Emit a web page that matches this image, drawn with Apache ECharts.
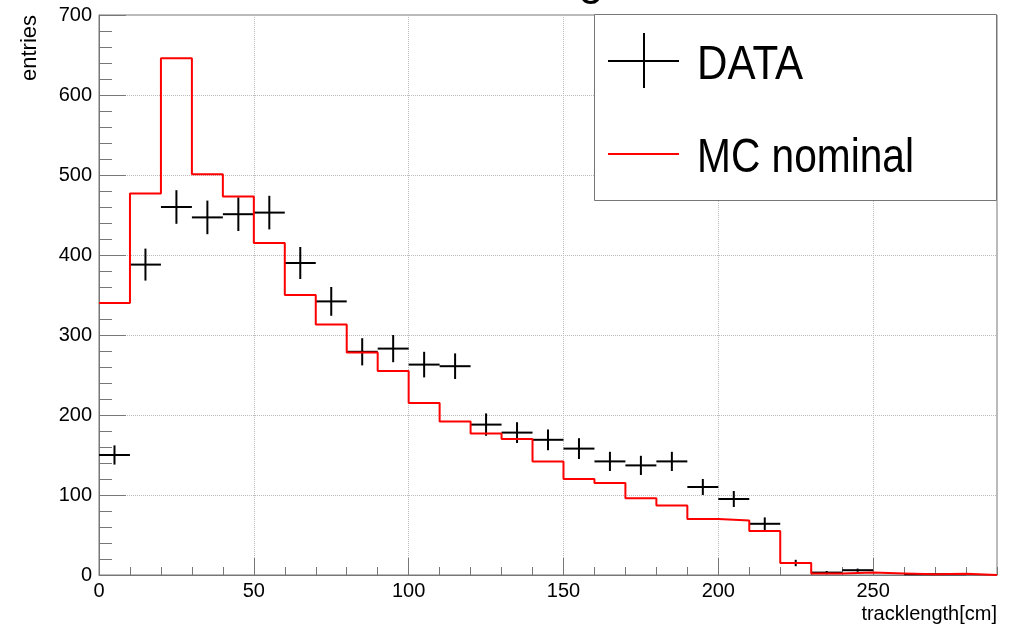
<!DOCTYPE html>
<html><head><meta charset="utf-8">
<script src="https://cdn.jsdelivr.net/npm/echarts@6/dist/echarts.min.js"></script>
<style>html,body{margin:0;padding:0;background:#fff}#chart{width:1017px;height:630px}</style>
</head><body><div id="chart"></div>
<script>
// ---- data ----
const binWidth = 10;
const binCenters = [5, 15, 25, 35, 45, 55, 65, 75, 85, 95, 105, 115, 125, 135, 145, 155, 165, 175, 185, 195, 205, 215, 225, 235, 245, 255, 265, 275, 285];
const dataValues = [150, 388, 460, 447, 451, 453, 390, 342, 279, 283, 263, 261, 188, 178, 169, 158, 142, 137, 142, 110, 95, 64, 15, 3, 6, 0, 1, 1, 0];
const dataErrors = [12, 20, 21, 21, 21, 21, 20, 18, 17, 17, 16, 16, 14, 13, 13, 13, 12, 12, 12, 10, 10, 8, 4, 2, 2, 0, 1, 1, 0];
const binEdges = [0, 10, 20, 30, 40, 50, 60, 70, 80, 90, 100, 110, 120, 130, 140, 150, 160, 170, 180, 190, 200, 210, 220, 230, 240, 250, 260, 270, 280, 290];
const mcValues = [340, 477, 646, 501, 473, 415, 350, 313, 278, 255, 215, 192, 177, 170, 142, 120, 115, 96, 87, 70, 68, 55, 15, 2, 3, 2, 1, 1.5, 0];
const xMin = 0, xMax = 290, xMajor = 50, xMinor = 10;
const yMin = 0, yMax = 700, yMajor = 100;
const seriesNames = ['DATA', 'MC nominal'];
const xTitle = 'tracklength[cm]';
const yTitle = 'entries';

const FONT = "'Liberation Sans', Arial, Helvetica, sans-serif";
const chart = echarts.init(document.getElementById('chart'), null, {renderer: 'canvas'});

const dataPoints = binCenters.map((c, i) => [c, dataValues[i], dataErrors[i]]);
const mcLine = binEdges.map((e, i) => [e, mcValues[Math.min(i, mcValues.length - 1)]]);

const option = {
  animation: false,
  backgroundColor: '#fff',
  grid: {left: 99, top: 15, right: 20, bottom: 55, containLabel: false,
         show: true, borderColor: '#777', borderWidth: 1, backgroundColor: 'transparent'},
  xAxis: [
    {
      type: 'value', position: 'bottom', min: xMin, max: xMax, interval: xMajor,
      axisLine: {show: true, lineStyle: {color: '#777', width: 1}},
      axisTick: {show: true, inside: true, length: 17, lineStyle: {color: '#777', width: 1}},
      axisLabel: {show: true, margin: 6, color: '#000', fontSize: 20, fontFamily: FONT,
                  showMaxLabel: false,
                  formatter: v => (v % xMajor === 0 ? String(v) : '')},
      splitLine: {show: true, lineStyle: {color: '#bbb', type: 'dotted', width: 1}},
      minorTick: {show: false}
    },
    {
      type: 'value', position: 'bottom', min: xMin, max: xMax, interval: xMinor,
      axisLine: {show: false},
      axisTick: {show: true, inside: true, length: 8, lineStyle: {color: '#777', width: 1}},
      axisLabel: {show: false},
      splitLine: {show: false}
    }
  ],
  yAxis: {
    type: 'value', min: yMin, max: yMax, interval: yMajor,
    axisLine: {show: true, lineStyle: {color: '#777', width: 1}},
    axisTick: {show: true, inside: true, length: 27, lineStyle: {color: '#777', width: 1}},
    minorTick: {show: true, splitNumber: 5, length: 13, lineStyle: {color: '#777', width: 1}},
    axisLabel: {show: true, margin: 7, color: '#000', fontSize: 20, fontFamily: FONT},
    splitLine: {show: true, lineStyle: {color: '#bbb', type: 'dotted', width: 1}}
  },
  series: [
    {
      name: seriesNames[0], type: 'custom', xAxisIndex: 0, yAxisIndex: 0,
      data: dataPoints, encode: {x: 0, y: 1}, z: 3,
      renderItem: function (params, api) {
        const x = api.value(0), y = api.value(1), e = api.value(2);
        if (!(y > 0)) return null;
        const l = api.coord([x - binWidth / 2, y]);
        const r = api.coord([x + binWidth / 2, y]);
        const t = api.coord([x, y + e]);
        const b = api.coord([x, y - e]);
        return {type: 'group', children: [
          {type: 'line', shape: {x1: l[0], y1: l[1], x2: r[0], y2: r[1]}, style: {stroke: '#000', lineWidth: 2}},
          {type: 'line', shape: {x1: t[0], y1: t[1], x2: b[0], y2: b[1]}, style: {stroke: '#000', lineWidth: 2}}
        ]};
      }
    },
    {
      name: seriesNames[1], type: 'line', step: 'end', xAxisIndex: 0, yAxisIndex: 0,
      data: mcLine, symbol: 'none', showSymbol: false, z: 4,
      lineStyle: {color: '#ff0000', width: 2}
    }
  ],
  graphic: [
    // partially visible title glyph at the top edge
    {type: 'text', x: 591, y: 4, z: 50, style: {text: 'g', fontSize: 46, fontFamily: FONT, fill: '#000', align: 'center', verticalAlign: 'bottom'}},
    // axis titles
    {type: 'text', x: 30, y: 15, rotation: Math.PI / 2, z: 50,
     style: {text: yTitle, fontSize: 22, fontFamily: FONT, fill: '#000', align: 'right', verticalAlign: 'middle'}},
    {type: 'text', x: 997, y: 614, z: 50,
     style: {text: xTitle, fontSize: 20, fontFamily: FONT, fill: '#000', align: 'right', verticalAlign: 'middle'}},
    // legend box
    {type: 'rect', z: 60, shape: {x: 594.5, y: 14.5, width: 402, height: 186},
     style: {fill: '#fff', stroke: '#777', lineWidth: 1}},
    {type: 'line', z: 61, shape: {x1: 608, y1: 61, x2: 679, y2: 61}, style: {stroke: '#000', lineWidth: 2}},
    {type: 'line', z: 61, shape: {x1: 644, y1: 33, x2: 644, y2: 88}, style: {stroke: '#000', lineWidth: 2}},
    {type: 'text', z: 61, x: 697, y: 65, scaleX: 0.86,
     style: {text: seriesNames[0], fontSize: 49, fontFamily: FONT, fill: '#000', align: 'left', verticalAlign: 'middle'}},
    {type: 'line', z: 61, shape: {x1: 608, y1: 154, x2: 679, y2: 154}, style: {stroke: '#ff0000', lineWidth: 2}},
    {type: 'text', z: 61, x: 697, y: 158, scaleX: 0.83,
     style: {text: seriesNames[1], fontSize: 49, fontFamily: FONT, fill: '#000', align: 'left', verticalAlign: 'middle'}}
  ]
};
chart.setOption(option);
</script>
</body></html>
